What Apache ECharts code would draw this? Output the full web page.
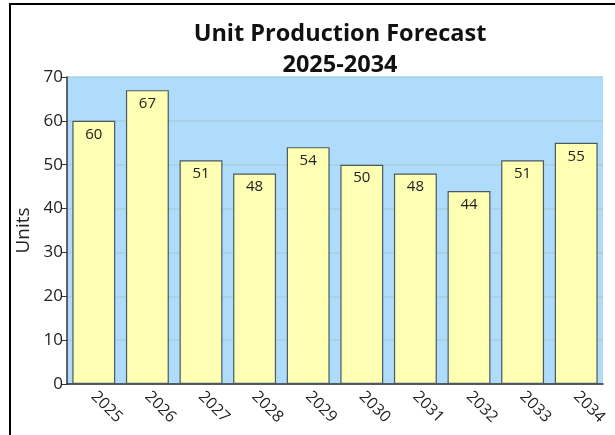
<!DOCTYPE html>
<html lang="en">
<head>
    <meta charset="utf-8">
    <title>Unit Production Forecast</title>
    <script src="https://cdn.jsdelivr.net/npm/echarts@6/dist/echarts.min.js"></script>
</head>
<body style="margin:0;">
<div id="main" style="width: 615px;height:435px;"></div>
<script type="text/javascript">
    // data
    var years = ['2025', '2026', '2027', '2028', '2029', '2030', '2031', '2032', '2033', '2034'];
    var units = [60, 67, 51, 48, 54, 50, 48, 44, 51, 55];

    var myChart = echarts.init(document.getElementById('main'));
    var option = {
        backgroundColor: '#fff',
        textStyle: { fontFamily: 'Open Sans' },
        title: {
            text: 'Unit Production Forecast\n2025-2034',
            left: 335,
            textAlign: 'center',
            top: 14,
            textStyle: { fontSize: 23.5, fontWeight: 'bold', color: '#111', lineHeight: 31, fontFamily: 'Open Sans' }
        },
        graphic: [{
            type: 'rect',
            shape: { x: 10, y: 4, width: 700, height: 500 },
            style: { fill: 'none', stroke: '#000', lineWidth: 2 },
            silent: true
        }],
        grid: {
            left: 67, right: 12, top: 77, bottom: 51,
            show: true, backgroundColor: '#b0dcfc', borderWidth: 0
        },
        xAxis: {
            type: 'category',
            data: years,
            axisLine: { lineStyle: { color: '#333', width: 1.5 } },
            axisTick: { show: false },
            axisLabel: { rotate: -45, fontSize: 16, color: '#222', margin: 10 }
        },
        yAxis: {
            type: 'value',
            min: 0, max: 70, interval: 10,
            name: 'Units',
            nameLocation: 'middle',
            nameGap: 31,
            nameTextStyle: { fontSize: 19, color: '#222' },
            axisLine: { show: true, lineStyle: { color: '#333', width: 1.5 } },
            axisTick: { show: true, length: 5, lineStyle: { color: '#333' } },
            axisLabel: { fontSize: 17, color: '#222', margin: 4 },
            splitLine: { lineStyle: { color: '#a8cfe0', width: 1.5 } }
        },
        series: [{
            type: 'bar',
            data: units,
            barCategoryGap: '20%',
            itemStyle: { color: '#ffffb3', borderColor: '#4a5866', borderWidth: 1.2 },
            label: { show: true, position: 'insideTop', fontSize: 15, color: '#222', distance: 6 }
        }]
    };
    myChart.setOption(option);
</script>
</body>
</html>
